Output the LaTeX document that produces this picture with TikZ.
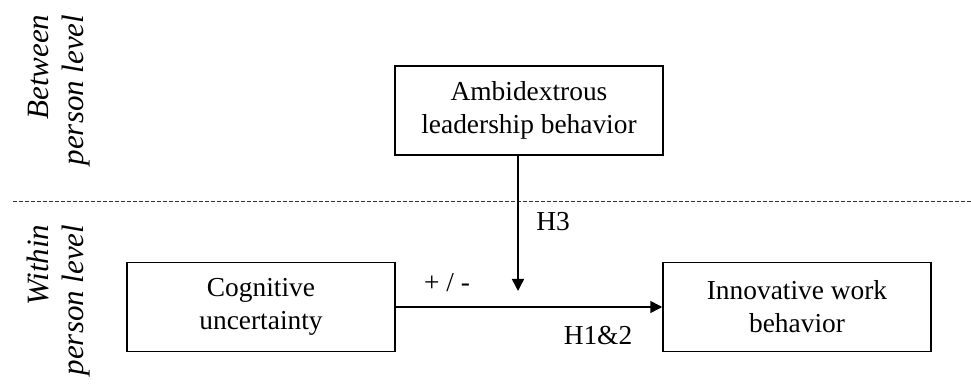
\documentclass[tikz,border=0pt]{standalone}
\usepackage{fontspec}
\setmainfont{Liberation Serif}
\usetikzlibrary{arrows.meta}
\tikzset{
  varbox/.style={draw, line width=0.75pt, minimum width=134pt, minimum height=44.5pt,
    align=center, inner sep=0pt, font=\fontsize{13.7}{16.5}\selectfont},
  lbl/.style={font=\fontsize{13.7}{16.5}\selectfont, inner sep=0pt},
  levellbl/.style={rotate=90, align=right, inner sep=0pt,
    font=\fontsize{15.5}{17.5}\selectfont\itshape},
  link/.style={line width=0.75pt, -{Triangle[length=6pt,width=6pt]}}
}
\begin{document}
\begin{tikzpicture}[x=0.5pt,y=-0.5pt]
    \useasboundingbox (0,0) rectangle (971,384);

    % Niveles
    \node[levellbl] (between) at (59,90) {Between\\person level};
    \node[levellbl] (within) at (59,300) {Within\\person level};

    % Linea que separa los niveles
    \coordinate (dl) at (13,202);
    \coordinate (dr) at (971,202);
    \draw[dash pattern=on 2pt off 1pt, line width=0.5pt, black!80] (dl) -- (dr);

    % Variables
    \node[varbox] (amb) at (529,110.5) {Ambidextrous\\leadership behavior};
    \node[varbox] (cog) at (261,307) {Cognitive\\uncertainty};
    \node[varbox] (iwb) at (797,307) {Innovative work\\behavior};

    % Relaciones
    \coordinate (mod) at (518,291);
    \draw[link] (cog) -- (iwb);
    \draw[link] (mod |- amb.south) -- (mod);

    % Etiquetas
    \node[lbl] (h3) at (553,222) {H3};
    \node[lbl] (sign) at (447,283) {+ / -};
    \node[lbl] (h12) at (598,336) {H1\&2};
\end{tikzpicture}
\end{document}
